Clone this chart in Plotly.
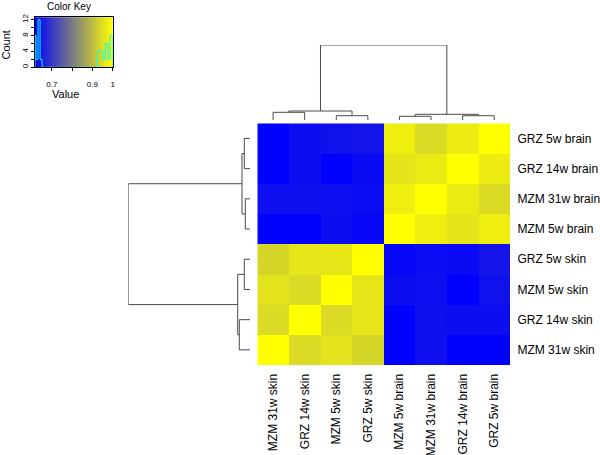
import numpy as np
import plotly.graph_objects as go

# ---------------- data ----------------
row_labels = ["GRZ 5w brain", "GRZ 14w brain", "MZM 31w brain", "MZM 5w brain",
              "GRZ 5w skin", "MZM 5w skin", "GRZ 14w skin", "MZM 31w skin"]
col_labels = ["MZM 31w skin", "GRZ 14w skin", "MZM 5w skin", "GRZ 5w skin",
              "MZM 5w brain", "MZM 31w brain", "GRZ 14w brain", "GRZ 5w brain"]

corr_values = [
    [0.618, 0.636, 0.642, 0.648, 0.974, 0.945, 0.972, 1.000],
    [0.618, 0.636, 0.618, 0.632, 0.960, 0.970, 1.000, 0.972],
    [0.640, 0.640, 0.638, 0.634, 0.974, 1.000, 0.970, 0.945],
    [0.618, 0.618, 0.636, 0.628, 1.000, 0.974, 0.960, 0.974],
    [0.938, 0.962, 0.962, 1.000, 0.628, 0.634, 0.632, 0.648],
    [0.957, 0.945, 1.000, 0.962, 0.636, 0.638, 0.618, 0.642],
    [0.945, 1.000, 0.945, 0.962, 0.618, 0.640, 0.636, 0.636],
    [1.000, 0.945, 0.957, 0.938, 0.618, 0.640, 0.618, 0.618],
]

# dendrograms: (left, right, merge height); ints are leaf positions
col_tree = (((0, 1, 7.7), (2, 3, 4.3), 9.0), ((4, 5, 3.7), (6, 7, 4.3), 5.7), 75.0)
row_tree = (((0, 1, 5.7), (2, 3, 4.7), 8.0), ((4, 5, 5.7), (6, 7, 10.7), 12.3), 121.7)

# colour-key histogram (bin edges, counts)
hist_edges = [0.617, 0.622, 0.632, 0.642, 0.652, 0.921, 0.926, 0.951, 0.964, 0.977, 0.987, 1.000]
hist_counts = [8, 2, 12, 2, 0, 2, 4, 2, 6, 2, 8]

key_ticks = [0.7, 0.8, 0.9, 1.0]
key_ticktext = ["0.7", "", "0.9", "1"]
count_ticks = [0, 2, 4, 6, 8, 10, 12]
count_ticktext = ["0", "", "4", "", "8", "", "12"]

zmin, zmax = 0.617, 1.0
colorscale = [[0.0, "rgb(0,0,255)"], [0.5, "rgb(128,128,128)"], [1.0, "rgb(255,255,0)"]]
FONT = "Liberation Sans, Arial, Helvetica, sans-serif"

W, H = 600, 455
def px(x): return x / W
def py(y): return 1 - y / H

def dendro(node):
    if isinstance(node, int):
        return float(node), 0.0, [], []
    l, r, h = node
    pl, hl, xl, yl = dendro(l)
    pr, hr, xr, yr = dendro(r)
    xs = xl + xr + [pl, pl, pr, pr, None]
    ys = yl + yr + [hl, h, h, hr, None]
    return (pl + pr) / 2, h, xs, ys

fig = go.Figure()

# main heatmap
fig.add_trace(go.Heatmap(
    z=corr_values, x=list(range(8)), y=list(range(8)),
    colorscale=colorscale, zmin=zmin, zmax=zmax, showscale=False,
    xaxis="x", yaxis="y", hoverinfo="skip"))

# column dendrogram
_, _, cx, ch = dendro(col_tree)
fig.add_trace(go.Scatter(x=cx, y=ch, mode="lines", line=dict(color="#4a4a4a", width=1),
                         xaxis="x2", yaxis="y2", hoverinfo="skip", showlegend=False))
# row dendrogram (positions on y, heights on x)
_, _, ry, rh = dendro(row_tree)
fig.add_trace(go.Scatter(x=rh, y=ry, mode="lines", line=dict(color="#4a4a4a", width=1),
                         xaxis="x3", yaxis="y3", hoverinfo="skip", showlegend=False))

# colour key gradient
ramp = np.linspace(zmin, zmax, 200)
ymax_key = max(count_ticks) / 0.95
fig.add_trace(go.Heatmap(
    z=[ramp, ramp], x=ramp, y=[0, ymax_key],
    colorscale=colorscale, zmin=zmin, zmax=zmax, showscale=False,
    xaxis="x4", yaxis="y4", hoverinfo="skip"))
# histogram step line
hx = [hist_edges[0]] + hist_edges + [hist_edges[-1]]
hy = [0] + hist_counts + [hist_counts[-1], 0]
fig.add_trace(go.Scatter(x=hx, y=hy, mode="lines", line=dict(color="cyan", width=1, shape="hv"),
                         xaxis="x4", yaxis="y4", hoverinfo="skip", showlegend=False))

hm_x = [px(257.3), px(510)]
hm_y = [py(365), py(123.3)]

fig.update_layout(
    width=W, height=H, margin=dict(l=0, r=0, t=0, b=0, autoexpand=False),
    paper_bgcolor="white", plot_bgcolor="white",
    font=dict(family=FONT, color="black", size=12),
    showlegend=False,
    xaxis=dict(domain=hm_x, range=[-0.5, 7.5], tickmode="array", tickvals=list(range(8)),
               ticktext=col_labels, tickangle=-90, ticks="outside", ticklen=3,
               tickcolor="rgba(0,0,0,0)", showgrid=False, zeroline=False, automargin=False,
               tickfont=dict(size=12), anchor="y"),
    yaxis=dict(domain=hm_y, range=[7.5, -0.5], tickmode="array", tickvals=list(range(8)),
               ticktext=row_labels, side="right", ticks="outside", ticklen=4,
               tickcolor="rgba(0,0,0,0)", showgrid=False, zeroline=False, automargin=False,
               tickfont=dict(size=12), anchor="x"),
    xaxis2=dict(domain=hm_x, range=[-0.5, 7.5], visible=False, anchor="y2", automargin=False),
    yaxis2=dict(domain=[py(120), py(45)], range=[0, col_tree[2]], visible=False, anchor="x2",
                automargin=False),
    xaxis3=dict(domain=[px(128.3), px(250)], range=[row_tree[2], 0], visible=False, anchor="y3",
                automargin=False),
    yaxis3=dict(domain=hm_y, range=[7.5, -0.5], visible=False, anchor="x3", automargin=False),
    xaxis4=dict(domain=[px(35), px(112.7)], range=[zmin, zmax], tickmode="array",
                tickvals=key_ticks, ticktext=key_ticktext, ticks="outside", ticklen=3,
                tickcolor="black", showline=True, mirror=True, linecolor="black", linewidth=1,
                showgrid=False, zeroline=False, tickfont=dict(size=8), ticklabelstandoff=6,
                automargin=False, anchor="y4"),
    yaxis4=dict(domain=[py(67.3), py(17.3)], range=[0, ymax_key], tickmode="array",
                tickvals=count_ticks, ticktext=count_ticktext, ticks="outside", ticklen=3,
                tickcolor="black", showline=True, mirror=True, linecolor="black", linewidth=1,
                showgrid=False, zeroline=False, tickfont=dict(size=8), tickangle=-90,
                automargin=False, anchor="x4"),
    annotations=[
        dict(text="Color Key", x=px(68.5), y=py(6.5), xref="paper", yref="paper",
             showarrow=False, font=dict(size=10), xanchor="center", yanchor="middle"),
        dict(text="Value", x=px(65), y=py(94), xref="paper", yref="paper",
             showarrow=False, font=dict(size=11), xanchor="center", yanchor="middle"),
        dict(text="Count", x=px(5.5), y=py(45), xref="paper", yref="paper", textangle=-90,
             showarrow=False, font=dict(size=11), xanchor="center", yanchor="middle"),
    ],
)

fig.write_html("out.html", config={"displayModeBar": False},
               post_script="document.body.style.margin='0';")
